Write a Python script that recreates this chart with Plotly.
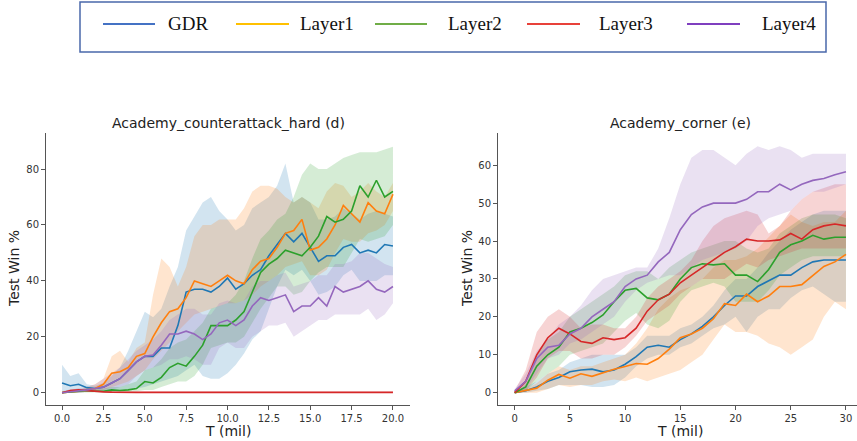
import plotly.graph_objects as go

# ---------------- data ----------------
series_names = ["GDR", "Layer1", "Layer2", "Layer3", "Layer4"]
line_colors = ["#1f77b4", "#ff7f0e", "#2ca02c", "#d62728", "#9467bd"]
legend_colors = ["#4472C4", "#FFC000", "#70AD47", "#E8413A", "#7F3FBF"]

# Academy_counterattack_hard (d)
t_hard = [0, 0.5, 1, 1.5, 2, 2.5, 3, 3.5, 4, 4.5, 5, 5.5, 6, 6.5, 7, 7.5, 8, 8.5, 9, 9.5, 10,
          10.5, 11, 11.5, 12, 12.5, 13, 13.5, 14, 14.5, 15, 15.5, 16, 16.5, 17, 17.5, 18, 18.5, 19, 19.5, 20]
hard_gdr = [3.5, 2.5, 3, 1.8, 1.5, 2, 3.5, 5, 8, 11, 13, 13, 16, 16, 24, 36, 37, 37, 36, 38, 41,
            37, 39, 42, 44, 49, 53, 57, 54, 57, 52, 47, 49, 49, 52, 53, 50, 51, 50, 53, 52.5]
hard_gdr_hi = [10, 6, 7, 3, 2.5, 3.5, 6, 9, 15, 22, 29, 27, 30, 38, 45, 58, 63, 68, 70, 65, 62,
               58, 60, 66, 68, 70, 74, 82, 68, 70, 68, 62, 62, 63, 66, 64, 62, 64, 65, 64, 63]
hard_gdr_lo = [0, 0, 0, 0.3, 0.5, 0.5, 0.5, 1, 1, 1.5, 2, 3, 4, 5, 6, 8, 10, 6, 5, 5, 7,
               10, 14, 19, 22, 30, 38, 44, 42, 44, 40, 35, 36, 38, 42, 44, 40, 40, 40, 42, 42]
hard_l1 = [0, 0.2, 0.5, 1, 1.5, 3, 7, 7.5, 9, 13, 14, 20, 25, 29, 30, 34, 40, 39, 38, 40, 42,
           40, 39, 44, 47, 48, 52, 57, 58, 62, 51, 52, 55, 60, 67, 64, 61, 68, 65, 64, 71]
hard_l1_hi = [0.5, 0.8, 1, 2, 3, 5, 13, 15, 11, 16, 18, 35, 48, 45, 38, 45, 56, 60, 60, 62, 62,
              62, 66, 72, 74, 74, 73, 70, 68, 70, 68, 66, 72, 75, 74, 70, 72, 75, 72, 70, 75]
hard_l1_lo = [0, 0, 0, 0.3, 0.5, 1, 2, 3, 4, 6, 8, 12, 15, 18, 22, 25, 28, 29, 30, 31, 32,
              32, 33, 35, 38, 40, 42, 45, 46, 47, 42, 42, 44, 50, 55, 54, 54, 57, 58, 60, 65]
hard_l2 = [0, 0.3, 0.5, 0.8, 0.5, 0.5, 1, 0.8, 1, 1.5, 4, 3.5, 5.5, 9, 10.5, 9.5, 13, 17, 24, 24, 24,
           26, 29, 36, 43, 46, 48, 51, 50, 49, 52, 56, 63, 61, 62, 65, 74, 70, 76, 70, 72]
hard_l2_hi = [0.5, 0.8, 1, 1.5, 1.5, 1.5, 2, 2, 3, 4, 8, 9, 12, 16, 18, 19, 22, 25, 30, 31, 32,
              35, 40, 48, 55, 58, 62, 64, 70, 78, 82, 80, 80, 82, 84, 85, 86, 86, 86, 87, 88]
hard_l2_lo = [0, 0, 0, 0, 0, 0, 0.2, 0.2, 0.3, 0.5, 1, 1, 2, 3, 4, 4, 6, 10, 16, 17, 18,
              18, 20, 25, 30, 34, 38, 38, 35, 36, 40, 43, 45, 45, 45, 50, 55, 54, 55, 56, 60]
hard_l3 = [0, 0.8, 1, 0.7, 0.5, 0.3, 0.2, 0.1, 0.1, 0.1, 0.1, 0.1, 0.1, 0.1, 0.1, 0.1, 0.1, 0.1, 0.1, 0.1, 0.1,
           0.1, 0.1, 0.1, 0.2, 0.2, 0.2, 0.3, 0.3, 0.3, 0.2, 0.2, 0.2, 0.2, 0.3, 0.3, 0.2, 0.2, 0.1, 0.1, 0.1]
hard_l3_hi = [0.3, 1.2, 1.4, 1.1, 0.8, 0.6, 0.5, 0.4, 0.4, 0.4, 0.4, 0.4, 0.4, 0.4, 0.4, 0.4, 0.4, 0.4, 0.4, 0.4, 0.4,
              0.4, 0.4, 0.4, 0.5, 0.5, 0.5, 0.6, 0.6, 0.6, 0.5, 0.5, 0.5, 0.5, 0.6, 0.6, 0.5, 0.5, 0.4, 0.4, 0.4]
hard_l3_lo = [0, 0.4, 0.6, 0.4, 0.2, 0.1, 0, 0, 0, 0, 0, 0, 0, 0, 0, 0, 0, 0, 0, 0, 0,
              0, 0, 0, 0, 0, 0, 0.1, 0.1, 0.1, 0, 0, 0, 0, 0.1, 0.1, 0, 0, 0, 0, 0]
hard_l4 = [0, 0.3, 0.5, 1, 1.5, 2, 3.5, 5, 8, 11, 13, 13.5, 17, 21, 21, 22, 21, 19, 21, 25, 26,
           24, 26, 31, 34, 33, 34, 35, 29, 31, 31, 34, 31, 38, 36, 37, 38, 40, 37, 36, 38]
hard_l4_hi = [0.5, 1, 1.5, 2, 3, 5, 7, 9, 12, 15, 17, 19, 22, 26, 28, 30, 30, 28, 28, 32, 33,
              32, 33, 38, 40, 40, 42, 43, 38, 39, 40, 42, 42, 46, 46, 47, 50, 50, 48, 46, 45]
hard_l4_lo = [0, 0, 0, 0.3, 0.5, 0.8, 1, 2, 3, 6, 8, 9, 10, 12, 12, 13, 12, 10, 10, 16, 18,
              16, 16, 20, 22, 24, 24, 25, 20, 22, 24, 26, 26, 28, 28, 28, 28, 30, 26, 28, 32]

# Academy_corner (e)
t_corner = [0, 1, 2, 3, 4, 5, 6, 7, 8, 9, 10, 11, 12, 13, 14, 15, 16, 17, 18, 19, 20,
            21, 22, 23, 24, 25, 26, 27, 28, 29, 30]
corner_gdr = [0, 0.5, 1.5, 3, 4, 5.5, 6, 6.2, 5.5, 6, 7.5, 9.5, 12, 12.5, 12, 14, 15.5, 17.5, 20, 23, 25.5,
              25.5, 28, 29.5, 31, 31, 33, 34.5, 35, 35, 35]
corner_gdr_hi = [0.5, 1.5, 3, 5, 6, 8, 9, 10, 10, 10, 10, 12, 15, 15, 15, 17, 18, 20, 23, 27, 30,
                 30, 33, 37, 40, 43, 45, 47, 48, 48, 48]
corner_gdr_lo = [0, 0, 0.5, 1, 2, 2, 2, 1.5, 1.5, 2, 4, 7, 9, 10, 10, 12, 13, 15, 17, 18, 20,
                 16, 20, 22, 22, 25, 27, 28, 26, 24, 24]
corner_l1 = [0, 0.5, 1.2, 3.3, 4.8, 3.8, 5, 4.3, 5.3, 6.2, 6.9, 7.7, 7.5, 9, 11.5, 14.5, 15.5, 17, 19.5, 23.5, 23,
             26, 24, 25.5, 28, 28, 28.5, 31, 33.3, 34.5, 36.5]
corner_l1_hi = [0.5, 1, 2.5, 5, 7, 6, 7, 7, 8, 9, 10, 13, 17, 22, 25, 27, 28, 30, 33, 35, 35,
                36, 38, 41, 44, 47, 45, 44, 45, 45, 48]
corner_l1_lo = [0, 0, 0, 1, 2, 1.5, 2, 2, 3, 3.5, 3, 4, 3, 4, 5, 6, 8, 10, 14, 18, 16,
                16, 15, 13, 12, 10, 12, 14, 20, 24, 22]
corner_l2 = [0, 1.5, 7, 10, 12, 16, 17, 18.5, 20.5, 24, 27, 27.5, 25, 24.5, 26, 30, 33, 34, 33.7, 34, 31,
             31, 29.3, 32.5, 37, 39, 40, 41.5, 40.5, 41, 41]
corner_l2_hi = [0.5, 3, 10, 14, 16, 20, 22, 24, 26, 28, 31, 32, 32, 30, 33, 35, 37, 38, 39, 40, 40,
                38, 37, 38, 42, 44, 46, 47, 47, 47, 46]
corner_l2_lo = [0, 0.5, 3, 5, 7, 10, 11, 12, 13, 16, 19, 21, 18, 17, 19, 24, 27, 28, 29, 28, 24,
                24, 24, 27, 31, 33, 35, 36, 36, 36, 36]
corner_l3 = [0, 3, 10, 14.5, 17, 15.5, 13.5, 13, 14.5, 14, 14.5, 17, 21.5, 24.5, 26, 29, 31, 33, 35, 37, 38.5,
             40.5, 40, 40, 40.3, 42, 40.5, 43, 44, 44.5, 44]
corner_l3_hi = [0.5, 6, 16, 20, 22, 20, 17, 18, 18, 17, 17, 20, 25, 28, 30, 32, 35, 40, 44, 46, 47,
                48, 47, 42, 44, 48, 51, 53, 54, 55, 55]
corner_l3_lo = [0, 0.5, 4, 9, 11, 11, 9, 9, 10, 10, 12, 15, 19, 21, 23, 26, 28, 30, 30, 30, 32,
                34, 33, 35, 36, 37, 38, 38, 38, 38, 38]
corner_l4 = [0.5, 3, 9, 12, 12.5, 15.5, 17, 20, 22, 24, 28, 30, 31, 34.5, 37, 43, 47, 49, 50, 50, 50,
             51, 53, 53, 55, 53.5, 55, 56, 56.5, 57.5, 58.3]
corner_l4_hi = [1, 5, 11, 14, 18, 20, 23, 27, 30, 31, 32, 33, 33, 38, 46, 55, 62, 64, 64, 62, 60,
                63, 65, 64, 65, 64, 62, 63, 63, 63, 63]
corner_l4_lo = [0, 1, 5, 9, 10, 13, 14, 16, 18, 20, 24, 27, 29, 30, 31, 31, 33, 35, 36, 37, 38,
                40, 44, 46, 47, 48, 51, 53, 53, 54, 55]

hard_x_ticks = [0, 2.5, 5, 7.5, 10, 12.5, 15, 17.5, 20]
hard_y_ticks = [0, 20, 40, 60, 80]
corner_x_ticks = [0, 5, 10, 15, 20, 25, 30]
corner_y_ticks = [0, 10, 20, 30, 40, 50, 60]

panel_titles = ["Academy_counterattack_hard (d)", "Academy_corner (e)"]
x_title = "T (mil)"
y_title = "Test Win %"

hard_sets = [(hard_gdr, hard_gdr_lo, hard_gdr_hi), (hard_l1, hard_l1_lo, hard_l1_hi),
             (hard_l2, hard_l2_lo, hard_l2_hi), (hard_l3, hard_l3_lo, hard_l3_hi),
             (hard_l4, hard_l4_lo, hard_l4_hi)]
corner_sets = [(corner_gdr, corner_gdr_lo, corner_gdr_hi), (corner_l1, corner_l1_lo, corner_l1_hi),
               (corner_l2, corner_l2_lo, corner_l2_hi), (corner_l3, corner_l3_lo, corner_l3_hi),
               (corner_l4, corner_l4_lo, corner_l4_hi)]


def rgba(hex_color, a):
    h = hex_color.lstrip("#")
    return "rgba(%d,%d,%d,%s)" % (int(h[0:2], 16), int(h[2:4], 16), int(h[4:6], 16), a)


W, H = 857, 441
fig = go.Figure()

panels = [(t_hard, hard_sets, "x", "y"), (t_corner, corner_sets, "x2", "y2")]
for t, sets, xa, ya in panels:
    # bands first
    for name, col, (m, lo, hi) in zip(series_names, line_colors, sets):
        fig.add_trace(go.Scatter(x=t, y=hi, mode="lines", line=dict(width=0, color=col),
                                 xaxis=xa, yaxis=ya, showlegend=False, hoverinfo="skip"))
        fig.add_trace(go.Scatter(x=t, y=lo, mode="lines", line=dict(width=0, color=col),
                                 fill="tonexty", fillcolor=rgba(col, 0.2),
                                 xaxis=xa, yaxis=ya, showlegend=False, hoverinfo="skip"))
    for name, col, (m, lo, hi) in zip(series_names, line_colors, sets):
        fig.add_trace(go.Scatter(x=t, y=m, mode="lines", name=name,
                                 line=dict(width=1.6, color=col),
                                 xaxis=xa, yaxis=ya, showlegend=False))

axis_common = dict(showgrid=False, zeroline=False, showline=True, linecolor="#555",
                   linewidth=1, ticks="outside", ticklen=4, tickwidth=1, tickcolor="#555",
                   tickfont=dict(family="DejaVu Sans", size=10, color="#333"))

# pixel layout -> paper coordinates (margins are zero)
def px(x):
    return x / W

def py(y):
    return (H - y) / H

fig.update_layout(
    width=W, height=H, margin=dict(l=0, r=0, t=0, b=0),
    plot_bgcolor="white", paper_bgcolor="white",
    showlegend=False,
    xaxis=dict(domain=[px(46), px(410)], range=[-0.97, 21.03], anchor="y",
               tickvals=hard_x_ticks, ticktext=["%.1f" % v for v in hard_x_ticks], **axis_common),
    yaxis=dict(domain=[py(405), py(133)], range=[-4.4, 92.9], anchor="x",
               tickvals=hard_y_ticks, **axis_common),
    xaxis2=dict(domain=[px(498), 1.0], range=[-1.51, 31.0], anchor="y2",
                tickvals=corner_x_ticks, **axis_common),
    yaxis2=dict(domain=[py(405), py(133)], range=[-3.25, 68.5], anchor="x2",
                tickvals=corner_y_ticks, **axis_common),
)

ann = []
lab_font = dict(family="DejaVu Sans", size=14, color="#222")
for cx, ycx, tt in [(228, 14, panel_titles[0]), (680, 467, panel_titles[1])]:
    ann.append(dict(x=px(cx), y=py(123), xref="paper", yref="paper", text=tt, showarrow=False,
                    xanchor="center", yanchor="middle", font=lab_font))
    ann.append(dict(x=px(cx), y=py(431), xref="paper", yref="paper", text=x_title, showarrow=False,
                    xanchor="center", yanchor="middle", font=lab_font))
    ann.append(dict(x=px(ycx), y=py(269), xref="paper", yref="paper", text=y_title, showarrow=False,
                    textangle=-90, xanchor="center", yanchor="middle", font=lab_font))

# legend panel (pasted-style box on top)
shapes = [dict(type="rect", xref="paper", yref="paper", x0=px(80), x1=px(826), y0=py(52), y1=py(2),
               line=dict(color="#4A68AA", width=1.5), fillcolor="rgba(0,0,0,0)")]
legend_line_x = [(103, 155), (236, 289), (375, 427), (527, 580), (687, 740)]
legend_text_x = [166, 298, 446, 597, 760]
for name, col, (a, b), tx in zip(series_names, legend_colors, legend_line_x, legend_text_x):
    shapes.append(dict(type="line", xref="paper", yref="paper", x0=px(a), x1=px(b),
                       y0=py(24), y1=py(24), line=dict(color=col, width=2)))
    ann.append(dict(x=px(tx), y=py(24), xref="paper", yref="paper", text=name, showarrow=False,
                    xanchor="left", yanchor="middle",
                    font=dict(family="Liberation Serif", size=19, color="#111")))

fig.update_layout(annotations=ann, shapes=shapes)
fig.write_html("out.html", config={"displayModeBar": False},
               post_script="document.body.style.margin='0';document.body.style.padding='0';")
